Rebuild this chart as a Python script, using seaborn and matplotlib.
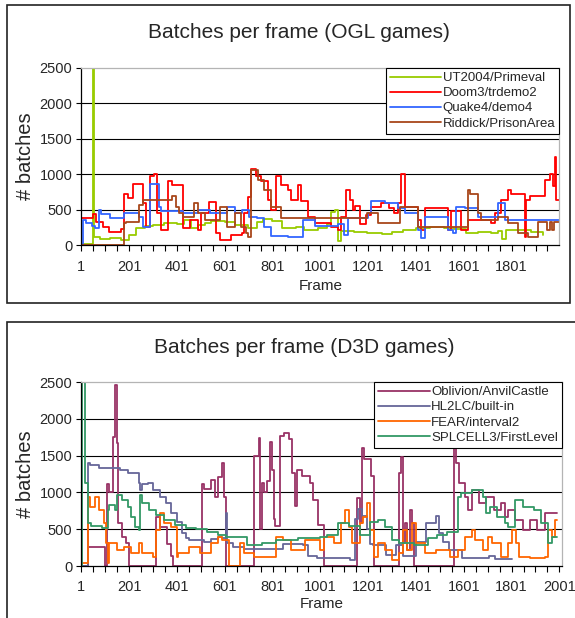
import matplotlib
matplotlib.use("Agg")
import numpy as np
import pandas as pd
import seaborn as sns
import matplotlib.pyplot as plt
from matplotlib.patches import Rectangle

# ---------------- data (frame where a level starts, batches) ----------------

# OGL games
ut2004_frames = [1, 48, 53, 80, 120, 167, 200, 230, 265, 300, 348, 400, 432, 460, 488, 520, 545, 600, 642,
                 700, 734, 760, 800, 841, 900, 933, 990, 1030, 1045, 1062, 1075, 1087, 1140, 1194, 1260, 1300,
                 1348, 1400, 1460, 1520, 1560, 1609, 1660, 1716, 1745, 1760, 1778, 1830, 1880, 1931]
ut2004_batches = [20, 3000, 110, 85, 100, 80, 140, 250, 270, 290, 310, 300, 350, 240, 290, 310, 340, 330, 280,
                  250, 330, 370, 340, 250, 260, 220, 240, 300, 470, 500, 65, 200, 190, 170, 160, 190,
                  210, 240, 260, 250, 230, 180, 190, 170, 200, 90, 220, 210, 190, 150]

doom3_frames = [1, 50, 62, 90, 115, 167, 181, 196, 215, 258, 273, 289, 304, 319, 335, 365, 381, 427, 457, 488,
                503, 534, 565, 580, 626, 672, 683, 697, 711, 732, 753, 781, 795, 816, 837, 865, 879, 907, 921,
                949, 977, 1047, 1075, 1089, 1109, 1123, 1137, 1144, 1165, 1193, 1214, 1256, 1286, 1310, 1325,
                1339, 1353, 1409, 1423, 1437, 1535, 1549, 1590, 1618, 1716, 1730, 1758, 1786, 1800, 1856,
                1863, 1877, 1939, 1960, 1975, 1981, 1988, 2000]
doom3_batches = [380, 440, 330, 260, 190, 230, 720, 660, 860, 590, 260, 970, 1000, 450, 216, 900, 850, 250, 357,
                 216, 450, 615, 170, 75, 150, 170, 460, 680, 1070, 970, 900, 640, 500, 970, 850, 780, 640, 850,
                 620, 400, 320, 260, 220, 400, 780, 640, 500, 560, 300, 420, 540, 590, 520, 450, 590,
                 1010, 545, 360, 220, 520, 220, 480, 220, 360, 310, 450, 640, 780, 730, 120,
                 640, 690, 920, 1010, 830, 1250, 640, 640]

quake4_frames = [1, 6, 20, 45, 58, 74, 81, 120, 181, 242, 260, 286, 327, 335, 427, 488, 540, 580, 611, 642,
                 672, 703, 734, 764, 795, 865, 928, 977, 1075, 1100, 1117, 1200, 1214, 1271, 1325, 1353, 1409,
                 1423, 1437, 1535, 1556, 1570, 1605, 1660, 1744, 1772, 2000]
quake4_batches = [0, 360, 310, 270, 240, 500, 440, 380, 450, 400, 260, 860, 545, 480, 450, 500, 460, 450, 545,
                  450, 500, 400, 380, 263, 130, 110, 360, 270, 300, 140, 380, 450, 620, 590, 520, 450, 220,
                  100, 400, 220, 170, 540, 520, 400, 590, 360, 360]

riddick_frames = [1, 181, 189, 242, 258, 381, 396, 411, 427, 473, 488, 519, 580, 611, 642, 669, 690, 697, 711,
                  739, 765, 795, 837, 1194, 1240, 1332, 1409, 1618, 1625, 1660, 1674, 1744, 1786, 1828, 1870,
                  1912, 1950, 1960, 1970, 1980, 2000]
riddick_batches = [0, 310, 330, 570, 640, 690, 545, 450, 404, 590, 450, 357, 545, 263, 450, 260, 170, 120, 1060,
                   920, 780, 540, 380, 450, 310, 545, 263, 780, 730, 450, 360, 400, 310, 170, 120,
                   330, 220, 330, 220, 330, 330]

# D3D games
oblivion_frames = [1, 27, 100, 110, 118, 133, 141, 149, 156, 172, 187, 202, 315, 331, 361, 376, 384, 505, 513,
                   543, 558, 573, 589, 596, 604, 725, 742, 749, 756, 763, 777, 791, 798, 805, 813, 833, 847,
                   868, 882, 896, 903, 924, 958, 972, 993, 1014, 1153, 1167, 1174, 1185, 1213, 1227, 1332,
                   1340, 1347, 1355, 1362, 1377, 1385, 1392, 1560, 1567, 1582, 1605, 1620, 1635, 1666, 1696,
                   1726, 1757, 1772, 1787, 1817, 1848, 1878, 1908, 1939, 1990]
oblivion_batches = [0, 263, 0, 1120, 1000, 1750, 2460, 1670, 580, 400, 308, 0, 670, 535, 300, 130, 0, 1120, 1050,
                    1170, 940, 1210, 1395, 940, 0, 1500, 1745, 500, 1133, 1000, 1150, 1680, 1310, 635, 540, 1766,
                    1812, 1720, 1270, 815, 1310, 1230, 1130, 900, 560, 0, 927, 590, 1608, 1450, 1223, 0, 1260,
                    1486, 308, 580, 217, 760, 580, 0, 1620, 1395, 1123, 940, 760, 1030, 850, 940,
                    760, 850, 670, 760, 625, 490, 625, 490, 715, 715]

hl2lc_frames = [1, 27, 35, 73, 164, 194, 240, 247, 255, 278, 300, 331, 354, 376, 400, 422, 437, 452, 513, 543,
                573, 590, 604, 611, 634, 680, 846, 930, 950, 986, 1125, 1146, 1160, 1174, 1195, 1207, 1220,
                1276, 1317, 1345, 1400, 1442, 1484, 1498, 1512, 1540, 1595, 1706, 1733, 1803]
hl2lc_batches = [0, 1395, 1370, 1327, 1305, 1260, 1123, 1030, 1114, 1123, 1030, 940, 850, 715, 600, 444, 376,
                 353, 330, 370, 400, 376, 715, 308, 262, 230, 300, 280, 140, 110, 80, 635, 770, 680, 500,
                 300, 290, 145, 280, 140, 320, 590, 680, 450, 320, 220, 110, 140, 100, 100]

fear_frames = [1, 27, 35, 58, 73, 96, 103, 111, 118, 149, 179, 209, 240, 255, 300, 315, 331, 346, 376, 399, 407,
               452, 498, 543, 573, 589, 619, 665, 680, 725, 816, 846, 877, 938, 998, 1014, 1059, 1089, 1104,
               1119, 1135, 1165, 1180, 1195, 1210, 1226, 1241, 1271, 1301, 1332, 1347, 1362, 1385, 1400, 1438,
               1484, 1544, 1575, 1605, 1635, 1650, 1681, 1704, 1719, 1757, 1787, 1803, 1818, 1833, 1878, 1939,
               1954, 1969, 1984, 1990]
fear_batches = [40, 940, 800, 940, 760, 580, 308, 40, 308, 217, 262, 172, 308, 172, 127, 490, 715, 580, 535, 127,
                172, 262, 172, 308, 400, 353, 0, 308, 172, 127, 400, 353, 217, 353, 217, 400, 308, 580, 760,
                535, 308, 580, 670, 850, 490, 127, 308, 217, 82, 172, 490, 217, 580, 308, 172,
                217, 127, 217, 400, 490, 353, 217, 400, 308, 127, 308, 490, 308, 127, 104, 127,
                490, 400, 625, 625]

splcell3_frames = [1, 3, 12, 14, 27, 43, 88, 111, 118, 141, 149, 171, 194, 209, 224, 240, 247, 255, 285, 315,
                   346, 391, 437, 482, 528, 573, 604, 695, 755, 816, 907, 998, 1029, 1074, 1120, 1165, 1210,
                   1241, 1271, 1301, 1332, 1392, 1453, 1490, 1529, 1575, 1590, 1635, 1681, 1696, 1711, 1742,
                   1772, 1787, 1817, 1848, 1893, 1924, 1954, 1969, 1990]
splcell3_batches = [0, 3000, 3000, 1130, 580, 550, 510, 760, 830, 760, 965, 900, 806, 670, 535, 490, 965, 850,
                    760, 690, 620, 557, 510, 498, 467, 420, 400, 285, 308, 353, 376, 400, 420, 580, 550, 420,
                    600, 625, 535, 353, 308, 285, 376, 420, 467, 940, 990, 1030, 940, 715, 806, 670,
                    580, 535, 900, 806, 760, 580, 308, 400, 400]

ogl_series = [
    ("UT2004/Primeval", ut2004_frames, ut2004_batches, "#99cc00"),
    ("Doom3/trdemo2", doom3_frames, doom3_batches, "#ff0000"),
    ("Quake4/demo4", quake4_frames, quake4_batches, "#3366ff"),
    ("Riddick/PrisonArea", riddick_frames, riddick_batches, "#a8461a"),
]
d3d_series = [
    ("Oblivion/AnvilCastle", oblivion_frames, oblivion_batches, "#993366"),
    ("HL2LC/built-in", hl2lc_frames, hl2lc_batches, "#666699"),
    ("FEAR/interval2", fear_frames, fear_batches, "#ff6600"),
    ("SPLCELL3/FirstLevel", splcell3_frames, splcell3_batches, "#339966"),
]

ogl_xticks = list(range(1, 1802, 200))     # top chart stops before 2001
d3d_xticks = list(range(1, 2002, 200))
x_minor = list(range(1, 2012, 50))
y_ticks = [0, 500, 1000, 1500, 2000, 2500]

# ---------------- style ----------------
sns.set_style("white")
plt.rcParams["font.family"] = ["Liberation Sans", "DejaVu Sans"]

fig = plt.figure(figsize=(5.75, 6.18), dpi=100)
fig.patch.set_facecolor("white")

# outer boxes round each chart (the lower one runs off the page)
fig.patches.append(Rectangle((0.0115, 0.5097), 0.9798, 0.4822, transform=fig.transFigure,
                             fill=False, edgecolor="#222222", lw=1.2))
fig.patches.append(Rectangle((0.0115, -0.05), 1.05, 0.5295, transform=fig.transFigure,
                             fill=False, edgecolor="#222222", lw=1.2))

ax_top = fig.add_axes([0.1416, 0.6031, 0.8309, 0.2869])
ax_bot = fig.add_axes([0.1416, 0.0841, 0.8358, 0.2977])


def draw_panel(ax, series, title, x_max, x_ticks, title_x, title_y, label_pad):
    for name, frames, batches, color in series:
        sns.lineplot(x=frames, y=batches, color=color, label=name, drawstyle="steps-post",
                     linewidth=1.3, ax=ax, estimator=None, legend=False)

    ax.set_xlim(1, x_max)
    ax.set_ylim(0, 2500)
    ax.set_xticks(x_ticks)
    ax.set_xticks([m for m in x_minor if m <= x_max], minor=True)
    ax.set_yticks(y_ticks)
    ax.tick_params(axis="x", which="both", direction="out", length=4.3, width=0.8,
                   color="black", labelsize=10.5, pad=6, bottom=True)
    ax.tick_params(axis="y", direction="out", length=3.6, width=0.8, color="black",
                   labelsize=10.5, pad=3, left=True)

    for y in y_ticks[1:-1]:
        ax.axhline(y, color="black", lw=0.8, zorder=0.5)

    ax.spines["left"].set_color("black")
    ax.spines["bottom"].set_color("black")
    ax.spines["top"].set_color("#b4b4b4")
    ax.spines["right"].set_color("#b4b4b4")
    for s in ax.spines.values():
        s.set_linewidth(0.9)

    ax.set_xlabel("Frame", fontsize=11, labelpad=label_pad)
    ax.set_ylabel("# batches", fontsize=14.5, labelpad=3)

    leg = ax.legend(loc="upper right", bbox_to_anchor=(1.0, 1.0), borderaxespad=0, fontsize=9.5,
                    handlelength=3.9, handletextpad=0.1, labelspacing=0.22, borderpad=0.3,
                    frameon=True, fancybox=False, framealpha=1)
    leg.get_frame().set_edgecolor("black")
    leg.get_frame().set_linewidth(0.8)

    fig.text(title_x, title_y, title, ha="center", va="center", fontsize=15)


draw_panel(ax_top, ogl_series, "Batches per frame (OGL games)", 2000, ogl_xticks, 0.520, 0.948, 4)
draw_panel(ax_bot, d3d_series, "Batches per frame (D3D games)", 2012, d3d_xticks, 0.529, 0.437, 2)

plt.savefig("out.png", dpi=100)
